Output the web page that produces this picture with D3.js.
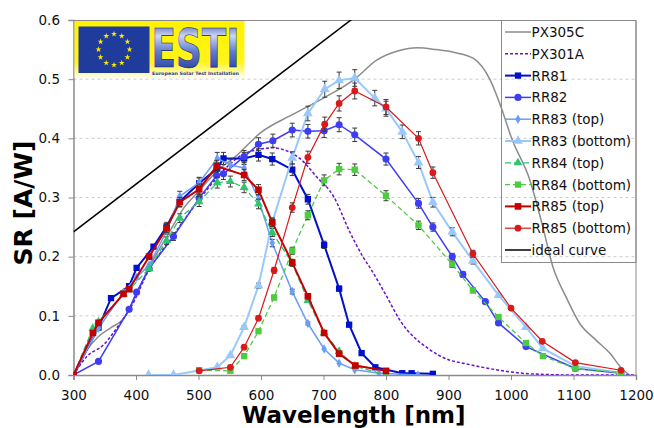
<!DOCTYPE html>
<html>
<head>
<meta charset="utf-8">
<script src="https://cdn.jsdelivr.net/npm/d3@7"></script>
<style>
  body { margin: 0; background: #fff; }
  text { font-family: "DejaVu Sans", Verdana, sans-serif; }
</style>
</head>
<body>
<div id="chart"></div>
<script>
// ---- data ----
const xTicks = [300, 400, 500, 600, 700, 800, 900, 1000, 1100, 1200];
const yTicks = [0, 0.1, 0.2, 0.3, 0.4, 0.5, 0.6];

const px305cWl = [300, 320, 340, 360, 380, 400, 420, 450, 475, 500, 530, 560, 600, 650, 700, 750, 785, 820, 850, 880, 910, 940, 966, 985, 1001, 1030, 1051, 1067, 1088, 1110, 1136, 1158, 1179, 1190];
const px305cSr = [0, 0.04, 0.065, 0.08, 0.095, 0.135, 0.18, 0.235, 0.28, 0.31, 0.345, 0.37, 0.41, 0.44, 0.468, 0.5, 0.532, 0.548, 0.553, 0.55, 0.545, 0.535, 0.5, 0.45, 0.4, 0.33, 0.25, 0.183, 0.132, 0.087, 0.059, 0.037, 0.009, 0];

const px301aWl = [300, 321, 348, 375, 391, 422, 454, 501, 529, 573, 596, 618, 641, 662, 689, 716, 742, 763, 777, 800, 822, 870, 902, 923, 976, 1030, 1100, 1200];
const px301aSr = [0, 0.031, 0.051, 0.088, 0.113, 0.18, 0.228, 0.296, 0.333, 0.374, 0.381, 0.384, 0.379, 0.366, 0.335, 0.302, 0.242, 0.2, 0.177, 0.135, 0.093, 0.043, 0.025, 0.02, 0.009, 0.002, 0, 0];

const rr81Wl = [300, 340, 360, 389, 401, 428, 449, 470, 501, 530, 540, 573, 596, 618, 650, 675, 701, 725, 741, 761, 783, 826, 841, 875];
const rr81Sr = [0, 0.08, 0.13, 0.15, 0.181, 0.217, 0.251, 0.293, 0.324, 0.349, 0.366, 0.366, 0.372, 0.365, 0.347, 0.297, 0.22, 0.146, 0.085, 0.037, 0.013, 0.003, 0.003, 0.002];

const rr82Wl = [300, 340, 389, 401, 421, 460, 501, 529, 540, 573, 596, 619, 650, 675, 701, 725, 750, 800, 852, 875, 906, 923, 959, 980, 1024, 1103, 1176];
const rr82Sr = [0, 0.023, 0.111, 0.14, 0.18, 0.234, 0.299, 0.337, 0.34, 0.369, 0.39, 0.396, 0.414, 0.412, 0.413, 0.423, 0.406, 0.365, 0.29, 0.25, 0.2, 0.17, 0.124, 0.088, 0.048, 0.011, 0.003];

const rr83TopWl = [300, 340, 380, 401, 421, 450, 470, 501, 530, 551, 573, 596, 618, 650, 675, 701, 725, 750, 789, 851];
const rr83TopSr = [0, 0.079, 0.14, 0.165, 0.186, 0.245, 0.302, 0.325, 0.366, 0.355, 0.35, 0.297, 0.223, 0.141, 0.087, 0.044, 0.02, 0.009, 0.003, 0];

const rr83BotWl = [420, 460, 530, 551, 573, 596, 618, 650, 675, 702, 725, 750, 782, 800, 826, 852, 875, 906, 939, 980, 1024, 1051, 1103, 1176];
const rr83BotSr = [0, 0, 0.013, 0.033, 0.081, 0.151, 0.258, 0.367, 0.442, 0.483, 0.498, 0.502, 0.468, 0.45, 0.411, 0.359, 0.292, 0.242, 0.193, 0.135, 0.081, 0.045, 0.015, 0.004];

const rr84TopWl = [300, 331, 340, 380, 389, 421, 449, 470, 501, 530, 551, 573, 596, 618, 650, 675, 701, 725, 750, 800];
const rr84TopSr = [0, 0.079, 0.09, 0.137, 0.144, 0.18, 0.227, 0.265, 0.293, 0.325, 0.327, 0.317, 0.289, 0.241, 0.189, 0.126, 0.071, 0.04, 0.015, 0];

const rr84BotWl = [501, 551, 573, 596, 621, 650, 675, 701, 725, 750, 800, 852, 906, 939, 980, 1024, 1051, 1103, 1176];
const rr84BotSr = [0.008, 0.007, 0.032, 0.074, 0.131, 0.21, 0.27, 0.329, 0.348, 0.347, 0.303, 0.253, 0.187, 0.143, 0.098, 0.054, 0.032, 0.011, 0.004];

const rr85TopWl = [300, 331, 340, 380, 389, 421, 449, 470, 501, 529, 573, 596, 618, 650, 675, 701, 725, 751, 800];
const rr85TopSr = [0, 0.071, 0.088, 0.137, 0.145, 0.2, 0.248, 0.292, 0.314, 0.353, 0.338, 0.313, 0.258, 0.19, 0.133, 0.071, 0.036, 0.016, 0.007];

const rr85BotWl = [501, 551, 573, 596, 621, 650, 675, 702, 725, 750, 800, 852, 875, 939, 1000, 1050, 1103, 1176];
const rr85BotSr = [0.007, 0.013, 0.047, 0.096, 0.177, 0.283, 0.368, 0.424, 0.459, 0.48, 0.453, 0.4, 0.342, 0.205, 0.113, 0.057, 0.021, 0.008];

const idealWl = [300, 1200];
const idealSr = [0.242, 0.968];

// relative uncertainty shown as error bars, and the band where bars are drawn
const relErr = 0.028;
const errBand = [440, 945];

const zip = (wl, sr) => wl.map((w, i) => ({ wl: w, sr: sr[i] }));

// series styling (legend order)
const series = [
    { name: "PX305C", data: zip(px305cWl, px305cSr), color: "#8c8c8c", width: 1.5, smooth: true },
    { name: "PX301A", data: zip(px301aWl, px301aSr), color: "#6a0fcc", width: 1.5, dash: "3,2", smooth: true },
    { name: "RR81", data: zip(rr81Wl, rr81Sr), color: "#0010cc", width: 2, symbol: d3.symbolSquare, size: 40, err: true },
    { name: "RR82", data: zip(rr82Wl, rr82Sr), color: "#3d3df5", width: 1.5, symbol: d3.symbolCircle, size: 40, err: true },
    { name: "RR83 (top)", data: zip(rr83TopWl, rr83TopSr), color: "#6b9ef7", width: 1.5, symbol: d3.symbolDiamond, size: 26, err: true },
    { name: "RR83 (bottom)", data: zip(rr83BotWl, rr83BotSr), color: "#99c8fa", width: 2, symbol: d3.symbolTriangle, size: 42, err: true },
    { name: "RR84 (top)", data: zip(rr84TopWl, rr84TopSr), color: "#2fc46e", width: 1.3, dash: "6,3", symbol: d3.symbolTriangle, size: 34, err: true },
    { name: "RR84 (bottom)", data: zip(rr84BotWl, rr84BotSr), color: "#4ccc3f", width: 1.3, dash: "5,3", symbol: d3.symbolSquare, size: 40, err: true },
    { name: "RR85 (top)", data: zip(rr85TopWl, rr85TopSr), color: "#c40000", width: 2, symbol: d3.symbolSquare, size: 44, err: true },
    { name: "RR85 (bottom)", data: zip(rr85BotWl, rr85BotSr), color: "#d81a1a", width: 1.2, symbol: d3.symbolCircle, size: 36, err: true },
    { name: "ideal curve", data: zip(idealWl, idealSr), color: "#000000", width: 1.5 }
];

// ---- layout ----
const W = 654, H = 428;
const margin = { top: 20, right: 18, bottom: 53, left: 73.5 };
const width = W - margin.left - margin.right;
const height = H - margin.top - margin.bottom;

const svgRoot = d3.select("#chart").append("svg")
    .attr("width", W)
    .attr("height", H);

const defs = svgRoot.append("defs");
defs.append("clipPath").attr("id", "plotClip")
    .append("rect").attr("width", width).attr("height", height);

const svg = svgRoot.append("g")
    .attr("transform", `translate(${margin.left},${margin.top})`);

const x = d3.scaleLinear().domain([300, 1200]).range([0, width]);
const y = d3.scaleLinear().domain([0, 0.6]).range([height, 0]);

// horizontal dashed gridlines
svg.append("g")
    .selectAll("line")
    .data(yTicks.filter(t => t > 0 && t < 0.6))
    .join("line")
    .attr("x1", 0).attr("x2", width)
    .attr("y1", d => y(d)).attr("y2", d => y(d))
    .attr("stroke", "#cccccc")
    .attr("stroke-dasharray", "3,3");

// plot frame (top and right)
svg.append("path")
    .attr("d", `M0,0.5H${width}V${height}`)
    .attr("fill", "none")
    .attr("stroke", "#8a8a8a");

// axes
const xAxis = svg.append("g")
    .attr("transform", `translate(0,${height})`)
    .call(d3.axisBottom(x).tickValues(xTicks).tickSize(5).tickPadding(10).tickFormat(d3.format("d")));
const yAxis = svg.append("g")
    .call(d3.axisLeft(y).tickValues(yTicks).tickSize(5).tickPadding(8.5).tickFormat(d3.format(".1f")));

[xAxis, yAxis].forEach(a => {
    a.select(".domain").attr("stroke", "#8a8a8a").attr("stroke-width", 1.5);
    a.selectAll(".tick line").attr("stroke", "#8a8a8a");
    a.selectAll(".tick text")
        .attr("fill", "#111")
        .style("font-size", "13.5px")
        .style("font-family", "'DejaVu Sans', Verdana, sans-serif");
});

// axis titles
svg.append("text")
    .attr("x", width / 2 - 1)
    .attr("y", height + 47.5)
    .attr("text-anchor", "middle")
    .style("font-size", "23px")
    .style("font-weight", "bold")
    .text("Wavelength [nm]");

svg.append("text")
    .attr("transform", "rotate(-90)")
    .attr("x", -183)
    .attr("y", -41.5)
    .attr("text-anchor", "middle")
    .style("font-size", "25px")
    .style("font-weight", "bold")
    .text("SR [A/W]");

// ---- series ----
const plot = svg.append("g").attr("clip-path", "url(#plotClip)");

series.forEach(s => {
    const line = d3.line()
        .x(d => x(d.wl))
        .y(d => y(d.sr))
        .curve(s.smooth ? d3.curveMonotoneX : d3.curveLinear);

    plot.append("path")
        .datum(s.data)
        .attr("d", line)
        .attr("fill", "none")
        .attr("stroke", s.color)
        .attr("stroke-width", s.width)
        .attr("stroke-dasharray", s.dash || null);

    if (s.err) {
        const withErr = s.data.filter(d => d.wl >= errBand[0] && d.wl <= errBand[1] && d.sr > 0.05);
        const eb = plot.append("g").attr("stroke", "#3a3a3a").attr("stroke-width", 1);
        withErr.forEach(d => {
            const cx = x(d.wl), lo = y(d.sr * (1 - relErr)), hi = y(d.sr * (1 + relErr));
            eb.append("path").attr("d", `M${cx},${lo}V${hi}M${cx - 2.5},${hi}H${cx + 2.5}M${cx - 2.5},${lo}H${cx + 2.5}`);
        });
    }

    if (s.symbol) {
        plot.selectAll(null)
            .data(s.data)
            .join("path")
            .attr("transform", d => `translate(${x(d.wl)},${y(d.sr)})`)
            .attr("d", d3.symbol().type(s.symbol).size(s.size))
            .attr("fill", s.color);
    }
});

// ---- legend (transparent box) ----
const legend = svgRoot.append("g").attr("transform", "translate(501,20)");
legend.append("rect")
    .attr("x", 0.5).attr("y", 0.5)
    .attr("width", 134.5).attr("height", 242)
    .attr("fill", "none")
    .attr("stroke", "#8a8a8a");

series.forEach((s, i) => {
    const g = legend.append("g").attr("transform", `translate(0,${12 + i * 21.8})`);
    g.append("line")
        .attr("x1", 4).attr("x2", 30)
        .attr("stroke", s.color)
        .attr("stroke-width", s.width)
        .attr("stroke-dasharray", s.dash || null);
    if (s.symbol) {
        g.append("path")
            .attr("transform", "translate(17,0)")
            .attr("d", d3.symbol().type(s.symbol).size(s.size))
            .attr("fill", s.color);
    }
    g.append("text")
        .attr("x", 30.5).attr("y", 5)
        .style("font-size", "13.5px")
        .attr("fill", "#111")
        .text(s.name);
});

// ---- ESTI logo ----
const yg = defs.append("linearGradient").attr("id", "logoBg").attr("x1", 0).attr("x2", 0).attr("y1", 0).attr("y2", 1);
yg.append("stop").attr("offset", "0%").attr("stop-color", "#fff200");
yg.append("stop").attr("offset", "72%").attr("stop-color", "#fff41a");
yg.append("stop").attr("offset", "100%").attr("stop-color", "#fffef0");

const tg = defs.append("linearGradient").attr("id", "logoTxt").attr("x1", 0).attr("x2", 0).attr("y1", 0).attr("y2", 1);
tg.append("stop").attr("offset", "0%").attr("stop-color", "#1b2a86");
tg.append("stop").attr("offset", "30%").attr("stop-color", "#c9d6f6");
tg.append("stop").attr("offset", "55%").attr("stop-color", "#5d7cd0");
tg.append("stop").attr("offset", "100%").attr("stop-color", "#14268a");

const logo = svgRoot.append("g").attr("transform", "translate(74.5,21)");
logo.append("rect").attr("width", 170).attr("height", 57).attr("fill", "url(#logoBg)");
logo.append("rect").attr("x", 4).attr("y", 5.5).attr("width", 71).attr("height", 46.5).attr("fill", "#1f3c9c");

const star = d3.symbol().type(d3.symbolStar).size(11);
d3.range(12).forEach(k => {
    const a = k * Math.PI / 6;
    logo.append("path")
        .attr("transform", `translate(${39.5 + 15.5 * Math.sin(a)},${28.5 - 15.5 * Math.cos(a)})`)
        .attr("d", star)
        .attr("fill", "#ffe600");
});

logo.append("text")
    .attr("x", 77).attr("y", 46)
    .attr("textLength", 88)
    .attr("lengthAdjust", "spacingAndGlyphs")
    .style("font-size", "54px")
    .style("font-weight", "bold")
    .attr("fill", "url(#logoTxt)")
    .attr("stroke", "#13206e")
    .attr("stroke-width", 0.6)
    .text("ESTI");

logo.append("text")
    .attr("x", 77.5).attr("y", 53.5)
    .attr("textLength", 87)
    .attr("lengthAdjust", "spacingAndGlyphs")
    .style("font-size", "4.5px")
    .style("font-weight", "bold")
    .attr("fill", "#1f3c9c")
    .text("European Solar Test Installation");
</script>
</body>
</html>
